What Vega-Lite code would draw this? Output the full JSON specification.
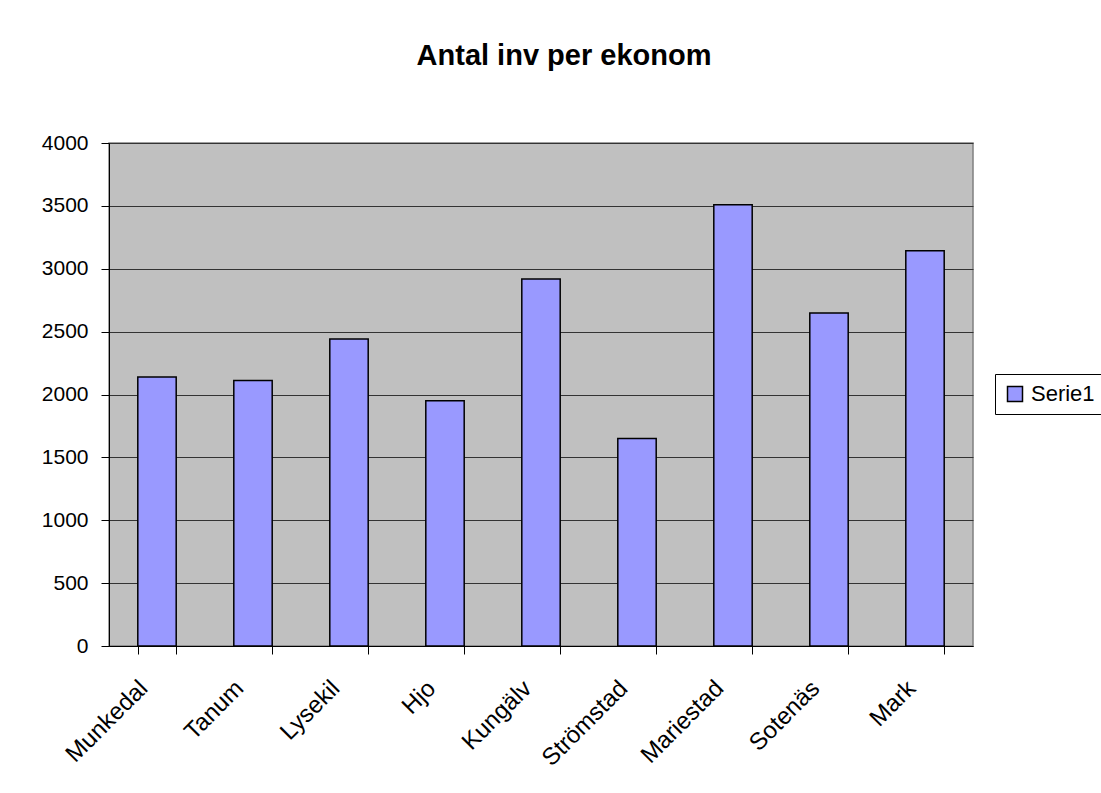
{
  "$schema": "https://vega.github.io/schema/vega-lite/v6.json",
  "autosize": "none",
  "width": 864,
  "height": 503,
  "padding": {"left": 109, "top": 143, "right": 128, "bottom": 147},
  "background": "white",
  "title": {
    "text": "Antal inv per ekonom",
    "font": "Liberation Sans",
    "fontSize": 29,
    "fontWeight": "bold",
    "color": "black",
    "anchor": "middle",
    "baseline": "alphabetic",
    "offset": 38,
    "dx": 23
  },
  "data": {
    "values": [
      {"kommun": "Munkedal", "antal": 2140, "serie": "Serie1"},
      {"kommun": "Tanum", "antal": 2111, "serie": "Serie1"},
      {"kommun": "Lysekil", "antal": 2442, "serie": "Serie1"},
      {"kommun": "Hjo", "antal": 1950, "serie": "Serie1"},
      {"kommun": "Kungälv", "antal": 2918, "serie": "Serie1"},
      {"kommun": "Strömstad", "antal": 1651, "serie": "Serie1"},
      {"kommun": "Mariestad", "antal": 3508, "serie": "Serie1"},
      {"kommun": "Sotenäs", "antal": 2648, "serie": "Serie1"},
      {"kommun": "Mark", "antal": 3143, "serie": "Serie1"}
    ]
  },
  "mark": {"type": "bar", "stroke": "black", "strokeWidth": 1.5},
  "encoding": {
    "x": {
      "field": "kommun",
      "type": "nominal",
      "sort": null,
      "title": null,
      "scale": {"paddingInner": 0.6, "paddingOuter": 0.3},
      "axis": {
        "labelAngle": -45,
        "labelAlign": "right",
        "labelBaseline": "top",
        "labelFont": "Liberation Sans",
        "labelFontSize": 24,
        "labelColor": "black",
        "labelPadding": 22,
        "labelOffset": -22,
        "tickBand": "extent",
        "tickSize": 8,
        "tickColor": "black",
        "domainColor": "black",
        "grid": false
      }
    },
    "y": {
      "field": "antal",
      "type": "quantitative",
      "title": null,
      "scale": {"domain": [0, 4000], "nice": false},
      "axis": {
        "values": [0, 500, 1000, 1500, 2000, 2500, 3000, 3500, 4000],
        "labelFont": "Liberation Sans",
        "labelFontSize": 21,
        "labelColor": "black",
        "labelPadding": 13,
        "tickSize": 8,
        "tickColor": "black",
        "domainColor": "black",
        "gridColor": "#333333",
        "gridWidth": 1,
        "format": "d"
      }
    },
    "color": {
      "field": "serie",
      "type": "nominal",
      "scale": {"range": ["#9999FF"]},
      "legend": {
        "title": null,
        "orient": "none",
        "legendX": 886,
        "legendY": 231,
        "symbolType": "square",
        "symbolSize": 225,
        "symbolStrokeColor": "black",
        "symbolStrokeWidth": 1.5,
        "labelFont": "Liberation Sans",
        "labelFontSize": 22,
        "labelColor": "black",
        "labelOffset": 5,
        "strokeColor": "black",
        "fillColor": "white",
        "padding": 9
      }
    }
  },
  "config": {
    "view": {"fill": "#C0C0C0", "stroke": "#808080", "strokeWidth": 1.5}
  }
}
